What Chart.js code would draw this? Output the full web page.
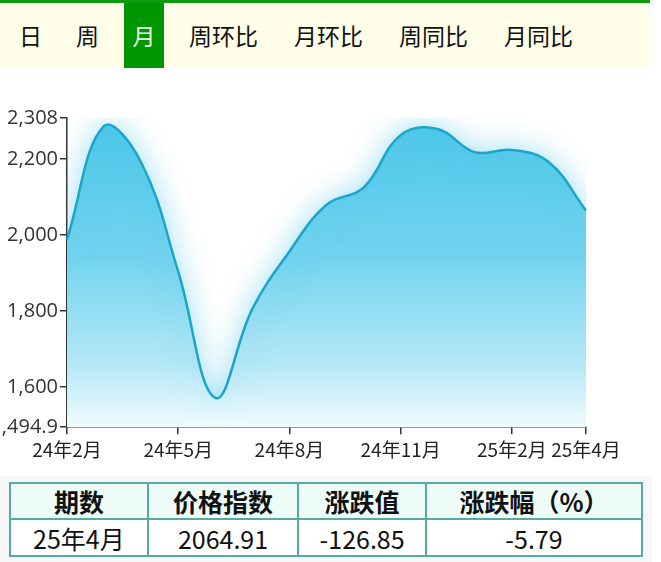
<!DOCTYPE html>
<html>
<head>
<meta charset="utf-8">
<script src="https://cdn.jsdelivr.net/npm/chart.js@4.4.1/dist/chart.umd.min.js"></script>
<style>
    body { margin: 0; background: #fff; width: 661px; height: 562px; overflow: hidden; position: relative; font-family: "Noto Sans CJK SC", "Noto Sans", sans-serif; }
    .tabs { position: absolute; left: 0; top: 0; width: 650px; height: 68px; background: #fefee9; border-top: 3px solid #0b9a0b; box-sizing: border-box; }
    .tab { position: absolute; top: 0; height: 65px; line-height: 65px; font-size: 23px; color: #111; text-align: center; }
    .tab.active { background: #009600; color: #e8ffe8; }
    .chart-box { position: absolute; left: 0; top: 90px; width: 661px; height: 383px; }
    .table-wrap { position: absolute; left: 0; top: 476px; width: 652px; height: 86px; background: #f7f7f7; }
    table { position: absolute; left: 9px; top: 6px; border-collapse: collapse; width: 634px; background: #fff; }
    td, th { border: 2px solid #56aaa5; text-align: center; font-size: 25px; color: #111; padding: 0; line-height: 30px; }
    th { background: #eefcf8; height: 34px; font-weight: bold; }
    td { height: 35px; }
</style>
</head>
<body>
<div class="tabs" id="tabs"></div>
<div class="chart-box"><canvas id="priceChart"></canvas></div>
<div class="table-wrap">
    <table id="summaryTable"></table>
</div>
<script>
// Tabs
const tabLabels = ['日', '周', '月', '周环比', '月环比', '周同比', '月同比'];
const tabLefts = [19, 76, 124, 189, 294, 399, 504];
const activeTab = 2;

// Monthly price index, 24年2月 .. 25年4月
const months = ['24年2月', '24年3月', '24年4月', '24年5月', '24年6月', '24年7月', '24年8月',
    '24年9月', '24年10月', '24年11月', '24年12月', '25年1月', '25年2月', '25年3月', '25年4月'];
const priceIndex = [1989, 2287, 2191, 1904, 1572, 1806, 1957, 2080, 2125, 2263, 2279, 2218, 2224, 2191.76, 2064.91];
const shownMonths = ['24年2月', '24年5月', '24年8月', '24年11月', '25年2月', '25年4月'];

// Y axis
const yMin = 1494.9;
const yMax = 2308;
const yTicks = [1494.9, 1600, 1800, 2000, 2200, 2308];

// Summary table
const tableHeaders = ['期数', '价格指数', '涨跌值', '涨跌幅（%）'];
const tableRow = ['25年4月', '2064.91', '-126.85', '-5.79'];
const colWidths = [139, 150, 127, 218];

document.addEventListener('DOMContentLoaded', () => {
    buildTabs();
    buildTable();
    initializePriceChart();
});

function buildTabs() {
    const tabs = document.getElementById('tabs');
    tabLabels.forEach((label, i) => {
        const el = document.createElement('div');
        el.className = 'tab' + (i === activeTab ? ' active' : '');
        el.textContent = label;
        el.style.left = tabLefts[i] + 'px';
        el.style.width = i === activeTab ? '40px' : (label.length * 23) + 'px';
        tabs.appendChild(el);
    });
}

function buildTable() {
    const table = document.getElementById('summaryTable');
    table.innerHTML = `
        <tr>${tableHeaders.map((h, i) => `<th style="width:${colWidths[i]}px">${h}</th>`).join('')}</tr>
        <tr>${tableRow.map(v => `<td>${v}</td>`).join('')}</tr>
    `;
}

function initializePriceChart() {
    const ctx = document.getElementById('priceChart').getContext('2d');

    // soft glow around the filled area
    const glowPlugin = {
        id: 'glow',
        beforeDatasetsDraw(chart) {
            chart.ctx.save();
            chart.ctx.shadowColor = 'rgba(70, 195, 232, 0.5)';
            chart.ctx.shadowBlur = 28;
        },
        afterDatasetsDraw(chart) {
            chart.ctx.restore();
        }
    };

    new Chart(ctx, {
        type: 'line',
        data: {
            labels: months,
            datasets: [{
                data: priceIndex,
                borderColor: '#1aa5c9',
                borderWidth: 2.5,
                backgroundColor: function(context) {
                    const area = context.chart.chartArea;
                    if (!area) return 'rgba(76, 200, 234, 0.8)';
                    const g = context.chart.ctx.createLinearGradient(0, area.top, 0, area.bottom);
                    g.addColorStop(0, '#4cc7ea');
                    g.addColorStop(0.45, '#72d3ef');
                    g.addColorStop(0.8, '#b5e8f6');
                    g.addColorStop(1, '#f2fbfe');
                    return g;
                },
                fill: 'start',
                tension: 0.4,
                pointRadius: 0
            }]
        },
        options: {
            responsive: true,
            maintainAspectRatio: false,
            animation: false,
            layout: {
                padding: { top: 28, right: 75, bottom: 8, left: 0 }
            },
            plugins: {
                legend: { display: false },
                tooltip: { enabled: false }
            },
            scales: {
                x: {
                    type: 'category',
                    offset: false,
                    border: { display: true, color: '#333', width: 1.5 },
                    grid: {
                        drawOnChartArea: false,
                        drawTicks: true,
                        tickLength: 7,
                        lineWidth: 1.5,
                        color: function(c) {
                            const lbl = months[c.index];
                            return shownMonths.includes(lbl) ? '#333' : 'transparent';
                        }
                    },
                    ticks: {
                        autoSkip: false,
                        maxRotation: 0,
                        padding: 4,
                        color: '#222',
                        font: { family: '"Noto Sans CJK SC", sans-serif', size: 19 },
                        callback: function(value, index) {
                            const lbl = months[index];
                            return shownMonths.includes(lbl) ? lbl : '';
                        }
                    }
                },
                y: {
                    min: yMin,
                    max: yMax,
                    afterBuildTicks: function(scale) {
                        scale.ticks = yTicks.map(v => ({ value: v }));
                    },
                    afterFit: function(scale) {
                        scale.width = 67;
                    },
                    border: { display: true, color: '#333', width: 1.5 },
                    grid: {
                        drawOnChartArea: false,
                        drawTicks: true,
                        tickLength: 7,
                        lineWidth: 1.5,
                        color: '#333'
                    },
                    ticks: {
                        padding: 2,
                        color: '#333',
                        font: { family: '"Open Sans", sans-serif', size: 20 },
                        callback: function(value) {
                            return value.toLocaleString('en-US', { maximumFractionDigits: 1 });
                        }
                    }
                }
            }
        },
        plugins: [glowPlugin]
    });
}
</script>
</body>
</html>
